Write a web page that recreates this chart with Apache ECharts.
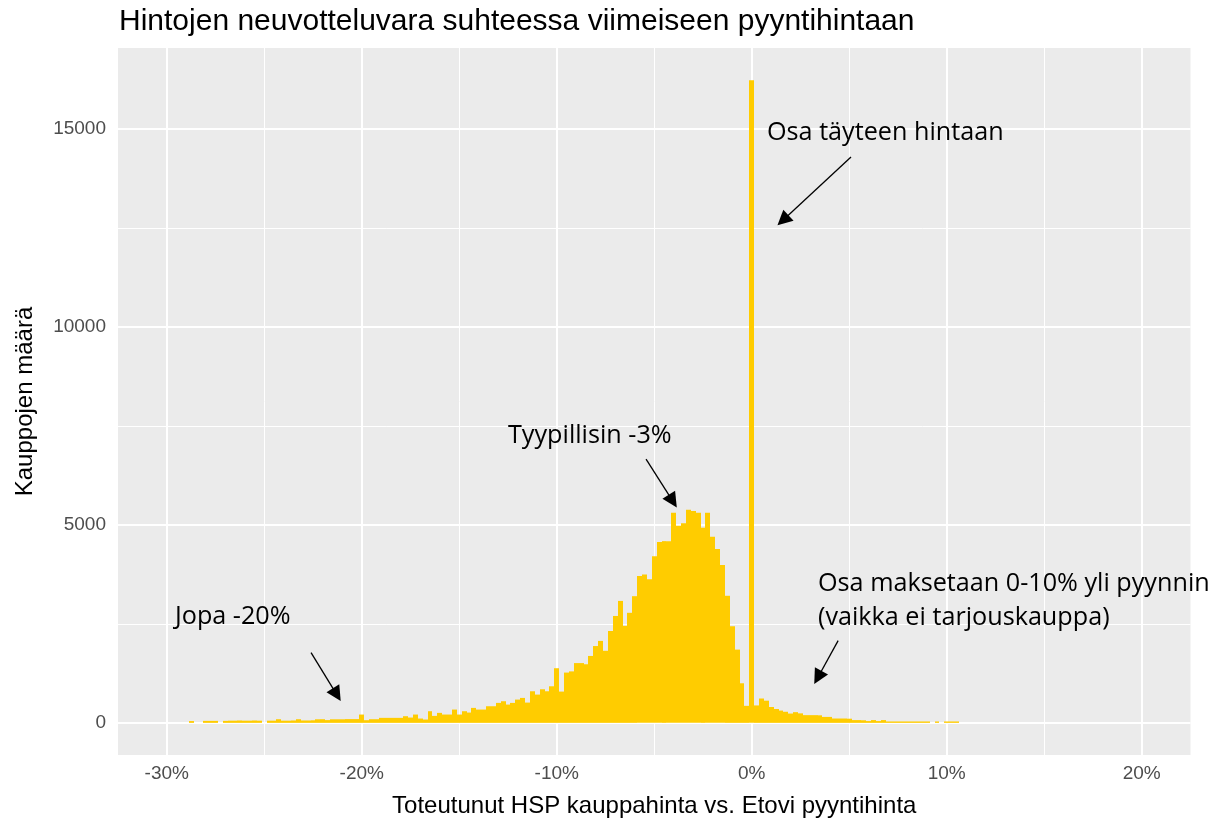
<!DOCTYPE html>
<html><head><meta charset="utf-8">
<script src="https://cdn.jsdelivr.net/npm/echarts@6/dist/echarts.min.js"></script>
<style>html,body{margin:0;padding:0;background:#fff}#c{width:1214px;height:823px}</style>
</head><body><div id="c"></div>
<script>
// ---- data (histogram of price change %, bin width 0.25 %) ----
const binStart = -28.75;   // centre of first bin (%)
const binWidth = 0.25;     // %
const counts = [
  45,0,0,50,50,50,0,50,55,55,
  60,55,55,60,55,0,55,55,92,55,
  55,60,92,60,60,65,90,92,70,90,
  90,90,95,95,95,210,67,92,92,126,
  126,126,126,126,168,134,210,109,84,294,
  176,252,210,210,336,210,294,260,378,336,
  336,420,420,504,546,462,504,588,630,512,
  798,714,848,798,924,1380,790,1270,1300,1510,
  1510,1480,1690,1940,2070,1820,2320,2700,3080,2450,
  2780,3200,3710,3750,3630,4210,4570,4590,4590,5310,
  4980,5040,5380,5350,5310,4930,5310,4700,4390,3990,
  3210,2440,1850,1000,430,16230,440,615,560,400,
  350,310,280,235,270,240,195,195,195,190,
  150,150,110,110,110,105,70,70,65,45,
  70,45,70,35,35,35,35,35,35,35,
  35,35,0,35,0,35,35,35
];
const xTicks = [-30,-20,-10,0,10,20];
const xMinor = [-25,-15,-5,5,15];
const yTicks = [0,5000,10000,15000];
const yMinor = [2500,7500,12500];
const titleText = 'Hintojen neuvotteluvara suhteessa viimeiseen pyyntihintaan';
const xName = 'Toteutunut HSP kauppahinta vs. Etovi pyyntihinta';
const yName = 'Kauppojen määrä';
// arrows: [start(x%,count), end(x%,count)]
const arrows = [
  [[5.09,14296],[1.6,12696]],
  [[-5.42,6663],[-4.05,5600]],
  [[-22.6,1776],[-21.28,713]],
  [[4.43,2078],[3.39,1146]]
];
const notes = [
  {text:'Osa täyteen hintaan', x:767, y:133},
  {text:'Tyypillisin -3%', x:508, y:436},
  {text:'Jopa -20%', x:175, y:617},
  {text:'Osa maksetaan 0-10% yli pyynnin', x:818, y:584},
  {text:'(vaikka ei tarjouskauppa)', x:818, y:618}
];

const histData = counts.map((c,i)=>[binStart + i*binWidth, c]);
const FONT = '"Liberation Sans", Arial, sans-serif';

const chart = echarts.init(document.getElementById('c'), null, {renderer:'canvas'});
const gridLines = []
  .concat(xTicks.map(v=>({xAxis:v, lineStyle:{width:2}})))
  .concat(xMinor.map(v=>({xAxis:v, lineStyle:{width:1}})))
  .concat(yTicks.map(v=>({yAxis:v, lineStyle:{width:2}})))
  .concat(yMinor.map(v=>({yAxis:v, lineStyle:{width:1}})));

chart.setOption({
  animation:false,
  backgroundColor:'#ffffff',
  title:{text:titleText, left:114, top:2,
    textStyle:{fontFamily:FONT, fontSize:30, fontWeight:'normal', color:'#000'}},
  grid:{left:118, right:23.5, top:48, bottom:66, show:true, backgroundColor:'#EBEBEB', borderWidth:0},
  xAxis:{type:'value', min:-32.5, max:22.5, splitLine:{show:false}, axisLine:{show:false},
    axisTick:{show:true, customValues:xTicks, length:5, lineStyle:{color:'#333', width:1.5}},
    axisLabel:{customValues:xTicks, formatter:v=>v+'%', color:'#4D4D4D', fontFamily:FONT, fontSize:19, margin:9},
    name:xName, nameLocation:'middle', nameGap:39,
    nameTextStyle:{fontFamily:FONT, fontSize:24, color:'#000'}},
  yAxis:{type:'value', min:-812, max:17047, splitLine:{show:false}, axisLine:{show:false},
    axisTick:{show:true, customValues:yTicks, length:5, lineStyle:{color:'#333', width:1.5}},
    axisLabel:{customValues:yTicks, formatter:v=>String(v), color:'#4D4D4D', fontFamily:FONT, fontSize:19, margin:12},
    name:yName, nameLocation:'middle', nameGap:81,
    nameTextStyle:{fontFamily:FONT, fontSize:24, color:'#000'}},
  series:[
    {type:'line', data:[], silent:true,
      markLine:{silent:true, symbol:'none', z:1, animation:false,
        label:{show:false}, emphasis:{disabled:true},
        lineStyle:{color:'#ffffff', type:'solid'}, data:gridLines}},
    {type:'custom', name:'hist', z:2, silent:true, data:histData,
      renderItem:function(params, api){
        const x = api.value(0), y = api.value(1);
        if (!y) return null;
        const p0 = api.coord([x - binWidth/2, 0]);
        const p1 = api.coord([x + binWidth/2, y]);
        const x0 = Math.round(p0[0]), x1 = Math.round(p1[0]);
        return {type:'rect', shape:{x:x0, y:p1[1], width:x1-x0, height:p0[1]-p1[1]},
          style:{fill:'#FFCC00'}};
      }},
    {type:'line', data:[], silent:true,
      markLine:{silent:true, z:10, animation:false, symbol:['none','triangle'], symbolSize:15,
        label:{show:false}, emphasis:{disabled:true},
        lineStyle:{color:'#000', type:'solid', width:1.3},
        data:arrows.map(a=>[{coord:a[0]},{coord:a[1]}])}}
  ],
  graphic:notes.map(n=>({type:'text', x:n.x, y:n.y, silent:true, z:20,
    style:{text:n.text, fontFamily:'"Open Sans"', fontSize:25.2, fill:'#000', align:'left', verticalAlign:'middle'}}))
});
</script>
</body></html>
